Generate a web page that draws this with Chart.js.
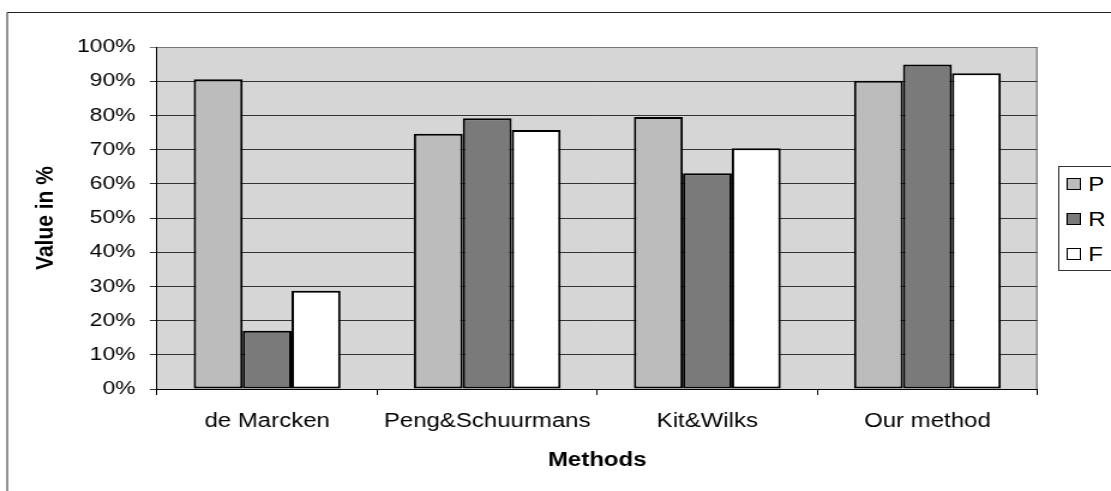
<!DOCTYPE html>
<html>
<head>
<meta charset="utf-8">
<script src="https://cdn.jsdelivr.net/npm/chart.js@4.4.1/dist/chart.umd.min.js"></script>
<style>
  html, body { margin: 0; padding: 0; background: #fff; overflow: hidden; }
  #wrap { position: relative; width: 926px; height: 491px; transform: scaleX(1.19978); transform-origin: 0 0; }
  #wrap canvas { display: block; }
  #legend { position: absolute; left: 881.6px; top: 166px; width: 52px; height: 105px; border: 1px solid #333;
            box-sizing: border-box; background: #fff; font: 20px "Liberation Sans", Arial, sans-serif; color: #000; }
  #legend .item { position: absolute; left: 6.5px; height: 22px; line-height: 22px; white-space: nowrap; }
  #legend .sw { display: inline-block; width: 10px; height: 10px; border: 1px solid #000; vertical-align: middle;
                margin: -3px 6px 0 0; }
</style>
</head>
<body>
<div id="wrap">
  <canvas id="chart" width="926" height="491"></canvas>
  <div id="legend"></div>
</div>
<script>
const methods = ['de Marcken', 'Peng&Schuurmans', 'Kit&Wilks', 'Our method'];
const precision = [90.6, 74.6, 79.5, 90.1];
const recall = [17.0, 79.2, 63.1, 94.9];
const fscore = [28.7, 75.7, 70.4, 92.3];

const FONT = '"Liberation Sans", Arial, sans-serif';

// outer frame, plot background and plot edge
const framePlugin = {
  id: 'frame',
  beforeDraw(chart) {
    const ctx = chart.ctx, a = chart.chartArea;
    ctx.save();
    ctx.strokeStyle = '#222';
    ctx.lineWidth = 1;
    ctx.beginPath();
    ctx.moveTo(6, 491);
    ctx.lineTo(6, 12.5);
    ctx.lineTo(926, 12.5);
    ctx.stroke();
    ctx.fillStyle = '#d6d6d6';
    ctx.fillRect(a.left, a.top, a.right - a.left, a.bottom - a.top);
    ctx.restore();
  },
  afterDraw(chart) {
    const ctx = chart.ctx, a = chart.chartArea;
    ctx.save();
    ctx.strokeStyle = '#666';
    ctx.lineWidth = 1;
    ctx.beginPath();
    ctx.moveTo(a.right - 0.5, a.top);
    ctx.lineTo(a.right - 0.5, a.bottom);
    ctx.stroke();
    ctx.restore();
  }
};

const chart = new Chart(document.getElementById('chart'), {
  type: 'bar',
  data: {
    labels: methods,
    datasets: [
      { label: 'P', data: precision, backgroundColor: '#bcbcbc' },
      { label: 'R', data: recall, backgroundColor: '#7a7a7a' },
      { label: 'F', data: fscore, backgroundColor: '#ffffff' }
    ]
  },
  options: {
    responsive: false,
    animation: false,
    layout: { padding: { left: 21.8, top: 47, right: 61.3, bottom: 0 } },
    datasets: {
      bar: {
        borderColor: '#000',
        borderWidth: 2,
        borderSkipped: false,
        barPercentage: 1,
        categoryPercentage: 0.667
      }
    },
    plugins: {
      legend: { display: false },
      tooltip: { enabled: false }
    },
    scales: {
      x: {
        grid: { offset: true, drawOnChartArea: false, drawTicks: true, tickLength: 6, color: '#000' },
        border: { color: '#000', width: 1 },
        ticks: { color: '#000', font: { family: FONT, size: 20 }, padding: 14, maxRotation: 0, autoSkip: false },
        title: {
          display: true, text: 'Methods', color: '#000',
          font: { family: FONT, size: 20, weight: 'bold' },
          padding: { top: 0, bottom: 19 }
        },
        afterFit(scale) { scale.height = 102; }
      },
      y: {
        min: 0,
        max: 100,
        grid: {
          color: (c) => c.tick && c.tick.value === 100 ? '#777' : '#333',
          tickLength: 6
        },
        border: { color: '#000', width: 1 },
        ticks: {
          stepSize: 10, color: '#000', padding: 12,
          font: { family: FONT, size: 19 },
          callback: (v) => v + '%'
        },
        title: {
          display: true, text: 'Value in %', color: '#000',
          font: { family: FONT, size: 21, weight: 'bold' }
        },
        afterFit(scale) { scale.width = 109.1; }
      }
    }
  },
  plugins: [framePlugin]
});

// legend built from the datasets
const legend = document.getElementById('legend');
const itemTops = [5.5, 40.5, 75.5];
chart.data.datasets.forEach((ds, i) => {
  const item = document.createElement('div');
  item.className = 'item';
  item.style.top = itemTops[i] + 'px';
  const sw = document.createElement('span');
  sw.className = 'sw';
  sw.style.background = ds.backgroundColor;
  item.appendChild(sw);
  item.appendChild(document.createTextNode(ds.label));
  legend.appendChild(item);
});
</script>
</body>
</html>
